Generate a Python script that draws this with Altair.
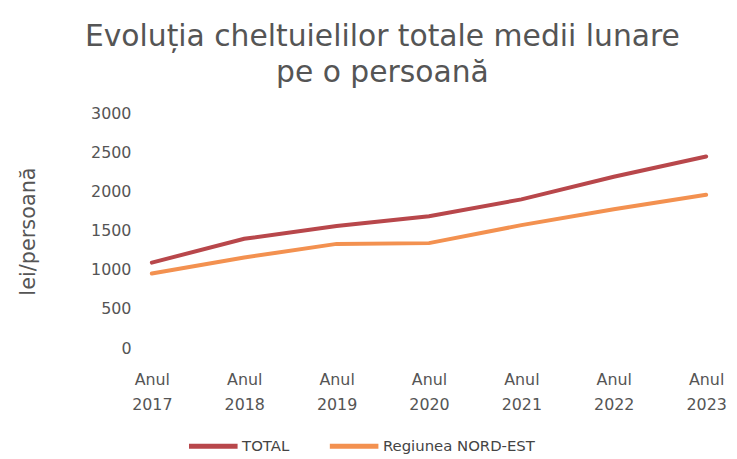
import altair as alt
import pandas as pd

years = ["Anul 2017", "Anul 2018", "Anul 2019", "Anul 2020", "Anul 2021", "Anul 2022", "Anul 2023"]
total = [1095, 1400, 1565, 1690, 1905, 2195, 2455]
nord_est = [955, 1160, 1335, 1345, 1575, 1780, 1965]
series_names = ["TOTAL", "Regiunea NORD-EST"]
colors = ["#B8474B", "#F39150"]

rows = []
for y, a, b in zip(years, total, nord_est):
    rows.append({"an": y, "serie": series_names[0], "val": a})
    rows.append({"an": y, "serie": series_names[1], "val": b})
df = pd.DataFrame(rows)

FONT = "DejaVu Sans"

chart = alt.Chart(df).mark_line(strokeWidth=4, strokeCap="round").encode(
    x=alt.X("an:N", sort=years, title=None,
            scale=alt.Scale(type="point", padding=0.14),
            axis=alt.Axis(labelExpr="split(datum.label, ' ')", labelAngle=0,
                          labelFontSize=16, labelColor="#555555", labelFont=FONT,
                          labelLineHeight=25, labelPadding=32, domain=False, ticks=False,
                          grid=False, labelBaseline="middle")),
    y=alt.Y("val:Q", title="lei/persoană",
            scale=alt.Scale(domain=[0, 3000], nice=False),
            axis=alt.Axis(values=[0, 500, 1000, 1500, 2000, 2500, 3000], format="d",
                          labelFontSize=16, labelColor="#555555", labelFont=FONT,
                          titleFontSize=21, titleFont=FONT, titleFontWeight="normal",
                          titleColor="#555555", titlePadding=53, labelPadding=8,
                          domain=False, ticks=False, grid=False)),
    color=alt.Color("serie:N", sort=series_names,
                    scale=alt.Scale(domain=series_names, range=colors),
                    legend=alt.Legend(title=None, orient="none", direction="horizontal",
                                      legendX=48, legendY=308,
                                      symbolType="stroke", symbolSize=2400,
                                      symbolStrokeWidth=5, labelFontSize=15,
                                      labelFont=FONT, labelColor="#444444",
                                      labelOffset=2, columnPadding=30)),
).properties(
    width=585, height=236,
    title=alt.TitleParams(["Evoluția cheltuielilor totale medii lunare", "pe o persoană"],
                          fontSize=30, font=FONT, fontWeight="normal", color="#555555",
                          lineHeight=37, anchor="middle", dx=-47, offset=18),
    autosize=alt.AutoSizeParams(type="none"),
    padding={"left": 132, "top": 105, "right": 10, "bottom": 110},
).configure_view(stroke=None)

chart.save("out.html", embed_options={"renderer": "svg", "actions": False})
